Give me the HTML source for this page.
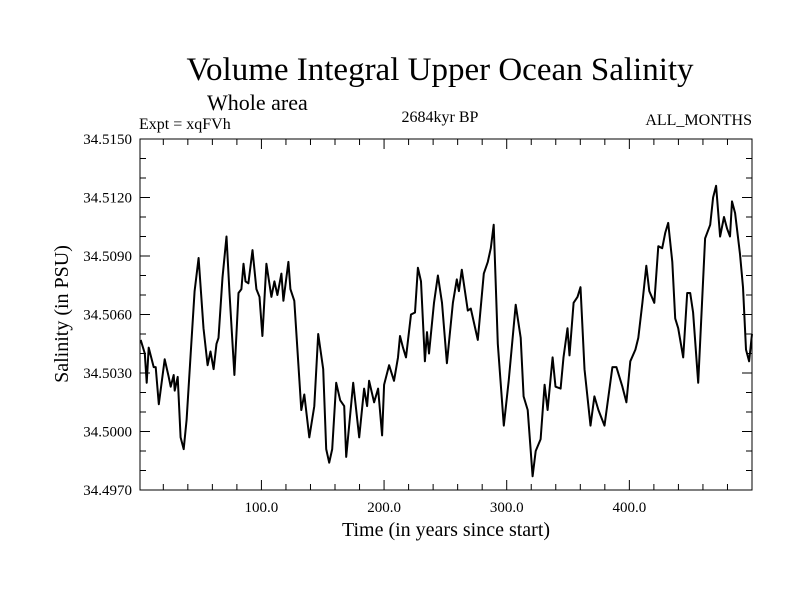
<!DOCTYPE html>
<html><head><meta charset="utf-8"><style>
body{margin:0;background:#fff;}
svg text{font-family:"Liberation Serif",serif;fill:#000;}
</style></head><body>
<svg id="chart" width="800" height="600" xmlns="http://www.w3.org/2000/svg">
<text x="440" y="80" font-size="33" text-anchor="middle">Volume Integral Upper Ocean Salinity</text>
<text x="207" y="110" font-size="22">Whole area</text>
<text x="139" y="129" font-size="16">Expt = xqFVh</text>
<text x="440" y="122" font-size="16" text-anchor="middle">2684kyr BP</text>
<text x="752" y="125" font-size="16" text-anchor="end">ALL_MONTHS</text>
<text x="446" y="536" font-size="20" text-anchor="middle">Time (in years since start)</text>
<text transform="translate(68,314) rotate(-90)" font-size="20" text-anchor="middle">Salinity (in PSU)</text>
<g id="axes"></g>
<path id="series" fill="none" stroke="#000" stroke-width="2" stroke-linejoin="round"/>
<rect x="140" y="139" width="612" height="351" fill="none" stroke="#000" stroke-width="1"/>
</svg>
<script>
const years=[1.6,4.9,6.5,8.1,12.2,13.8,16.3,21.1,24.4,26,28.5,29.3,31.7,34.1,36.6,39,42.3,45.5,48.8,52.8,56.1,58.5,61,63.4,65,68.3,71.5,74,78,81.3,83.7,85.4,87,89.4,92.7,95.9,98.4,100.8,104.1,108.1,110.6,113,116.3,117.9,122,123.6,126.8,132.5,135,139,143.1,146.3,150.4,152.8,155.3,157.7,161,164.2,167.5,169.1,174.8,179.7,183.7,186.2,187.8,191.9,195.1,198.4,200,204.1,208.1,211.4,213,215.4,217.9,222,225.2,227.6,230.1,233.3,235,236.6,240.7,243.9,247.2,251.2,256.1,259.3,261,263.4,268.3,270.7,276.4,281.3,284.6,287,289.4,292.7,297.6,301.6,307.3,311.4,313.8,317.1,321.1,323.6,327.6,330.9,333.3,337.4,339.8,343.9,346.3,349.6,351.2,354.5,357.7,360.2,363.4,368.3,371.5,374.8,379.7,386.2,389.4,394.3,397.6,400.8,404.9,407.3,410.6,413.8,416.3,420.3,423.6,426.8,429.3,431.7,435,437.4,439.8,443.9,447.2,449.6,452,456.1,461.8,465.9,468.3,470.7,474,477.2,479.7,482.1,483.7,486.2,490.2,492.7,495.1,497.6,500];
const salinity=[34.5047,34.5040,34.5025,34.5043,34.5033,34.5033,34.5014,34.5037,34.5028,34.5023,34.5029,34.5021,34.5028,34.4997,34.4991,34.5006,34.5040,34.5072,34.5089,34.5053,34.5034,34.5041,34.5032,34.5045,34.5048,34.5079,34.5100,34.5071,34.5029,34.5071,34.5073,34.5086,34.5077,34.5076,34.5093,34.5073,34.5069,34.5049,34.5086,34.5069,34.5077,34.5070,34.5081,34.5067,34.5087,34.5073,34.5067,34.5011,34.5019,34.4997,34.5013,34.5050,34.5032,34.4991,34.4984,34.4991,34.5025,34.5016,34.5013,34.4987,34.5025,34.4997,34.5022,34.5013,34.5026,34.5015,34.5022,34.4998,34.5024,34.5034,34.5026,34.5038,34.5049,34.5043,34.5038,34.5060,34.5061,34.5084,34.5077,34.5036,34.5051,34.5040,34.5066,34.5080,34.5066,34.5035,34.5066,34.5078,34.5072,34.5083,34.5062,34.5063,34.5047,34.5081,34.5087,34.5094,34.5106,34.5045,34.5003,34.5026,34.5065,34.5048,34.5018,34.5011,34.4977,34.4990,34.4996,34.5024,34.5011,34.5038,34.5023,34.5022,34.5038,34.5053,34.5039,34.5066,34.5069,34.5074,34.5032,34.5003,34.5018,34.5011,34.5003,34.5033,34.5033,34.5023,34.5015,34.5036,34.5042,34.5048,34.5066,34.5085,34.5072,34.5066,34.5095,34.5094,34.5102,34.5107,34.5087,34.5058,34.5053,34.5038,34.5071,34.5071,34.5061,34.5025,34.5099,34.5106,34.5120,34.5126,34.5100,34.5110,34.5104,34.5100,34.5118,34.5112,34.5091,34.5074,34.5042,34.5036,34.5050];
const xTickLabels=["100.0","200.0","300.0","400.0"];
const yTickLabels=["34.4970","34.5000","34.5030","34.5060","34.5090","34.5120","34.5150"];
const X0=140,X1=752,Y0=490,Y1=139,XMIN=1,XMAX=500,YMIN=34.4970,YMAX=34.5150;
function sx(v){return X0+(v-XMIN)/(XMAX-XMIN)*(X1-X0);}
function sy(v){return Y0-(v-YMIN)/(YMAX-YMIN)*(Y0-Y1);}
const ns="http://www.w3.org/2000/svg";
const axes=document.getElementById('axes');
function line(x1,y1,x2,y2,name){const l=document.createElementNS(ns,'line');l.setAttribute('x1',x1);l.setAttribute('y1',y1);l.setAttribute('x2',x2);l.setAttribute('y2',y2);l.setAttribute('stroke','#000');l.setAttribute('stroke-width','1');


axes.appendChild(l);}
function text(x,y,s,anchor,name){const t=document.createElementNS(ns,'text');t.setAttribute('x',x);t.setAttribute('y',y);t.setAttribute('font-size','15');t.setAttribute('text-anchor',anchor);t.textContent=s;


axes.appendChild(t);}
for(let v=20;v<500;v+=20){const x=sx(v);const major=v%100===0;const L=major?10:6;line(x,Y0,x,Y0-L,'x-tick');line(x,Y1,x,Y1+L,'x-tick-top');}
xTickLabels.forEach(s=>{text(sx(parseFloat(s)),512,s,'middle','x-tick-label');});
for(let i=0;i<=18;i++){const v=YMIN+i*0.001;const y=sy(v);const major=i%3===0;const L=major?10:6;line(X0,y,X0+L,y,'y-tick');line(X1,y,X1-L,y,'y-tick-right');}
yTickLabels.forEach(s=>{text(132,sy(parseFloat(s))+5,s,'end','y-tick-label');});
let d='';years.forEach((yr,i)=>{d+=(i?'L':'M')+sx(yr).toFixed(1)+','+sy(salinity[i]).toFixed(1);});
document.getElementById('series').setAttribute('d',d);
</script>
</body></html>
